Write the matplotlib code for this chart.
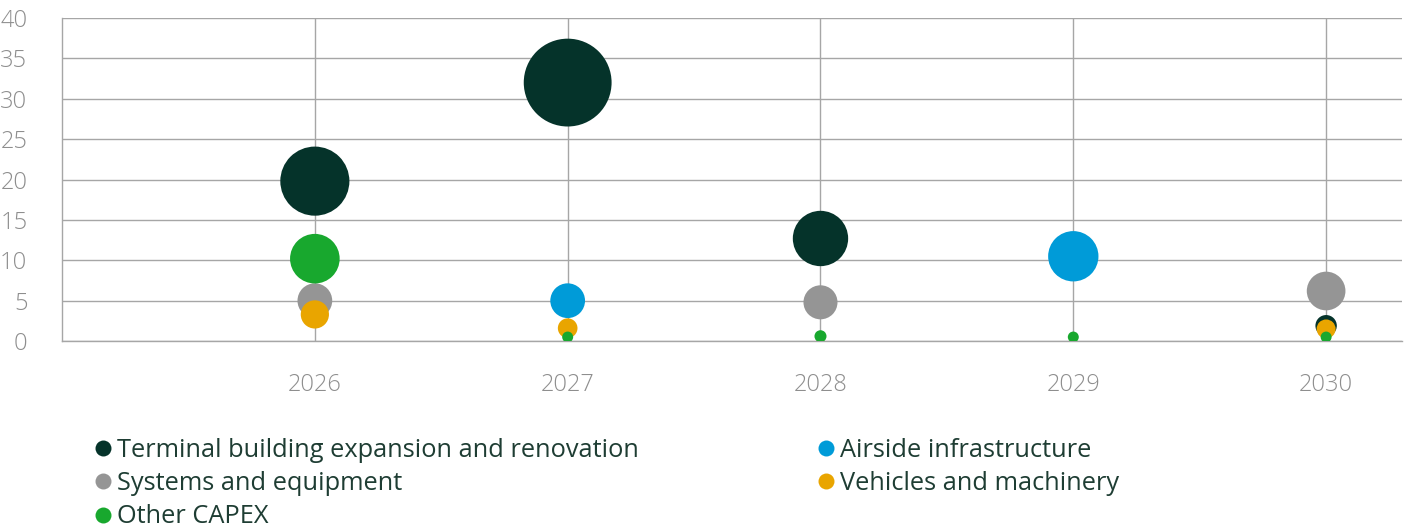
import numpy as np
import matplotlib.pyplot as plt
from matplotlib.lines import Line2D

years = [2026, 2027, 2028, 2029, 2030]

# CAPEX per category and year (NaN = no bubble)
terminal = [19.8, 32.0, 12.7, np.nan, 1.9]
airside = [np.nan, 5.0, np.nan, 10.5, np.nan]
systems = [5.0, np.nan, 4.8, np.nan, 6.2]
vehicles = [3.3, 1.6, 0.3, np.nan, 1.5]
other = [10.2, 0.5, 0.6, 0.5, 0.5]

names = ["Terminal building expansion and renovation", "Airside infrastructure",
         "Systems and equipment", "Vehicles and machinery", "Other CAPEX"]
colors = ["#05332A", "#009BD8", "#959595", "#E9A500", "#18A82E"]
series = [terminal, airside, systems, vehicles, other]

plt.rcParams['font.family'] = ['Open Sans', 'DejaVu Sans']

fig = plt.figure(figsize=(14.1, 5.28), dpi=100)
ax = fig.add_axes([0.044, 0.354, 0.9503, 0.612])

for vals, c in zip(series, colors):
    v = np.array(vals, dtype=float)
    ax.scatter(years, v, s=np.nan_to_num(v) * 125, color=c, edgecolors='none', zorder=3)

ax.set_xlim(2025, 2030.3)
ax.set_ylim(0, 40)
ax.set_xticks(years)
ax.set_yticks(range(0, 41, 5))
ax.grid(True, color='#A6A6A6', linewidth=1.0)
ax.set_axisbelow(True)
for side in ['top', 'right']:
    ax.spines[side].set_visible(False)
for side in ['left', 'bottom']:
    ax.spines[side].set_color('#A6A6A6')
    ax.spines[side].set_linewidth(1.0)
ax.tick_params(axis='both', length=0, colors='#8E8E8E', labelsize=17)
for lab in ax.get_xticklabels() + ax.get_yticklabels():
    lab.set_fontweight('light')
ax.tick_params(axis='y', pad=25)
ax.tick_params(axis='x', pad=23)

# legend: two columns, filled column-wise
order = [0, 2, 4, 1, 3]
handles = [Line2D([], [], marker='o', linestyle='none', markersize=11.5,
                  markerfacecolor=colors[i], markeredgecolor='none') for i in order]
labels = [names[i] for i in order]
leg = fig.legend(handles, labels, ncol=2, loc='upper left', bbox_to_anchor=(0.068, 0.171),
                 frameon=False, fontsize=18.3, handlelength=0.55, handletextpad=0.3,
                 labelspacing=0.33, columnspacing=7.05, borderaxespad=0, borderpad=0,
                 labelcolor='#1E3D33')

fig.savefig('out.png', dpi=100)
